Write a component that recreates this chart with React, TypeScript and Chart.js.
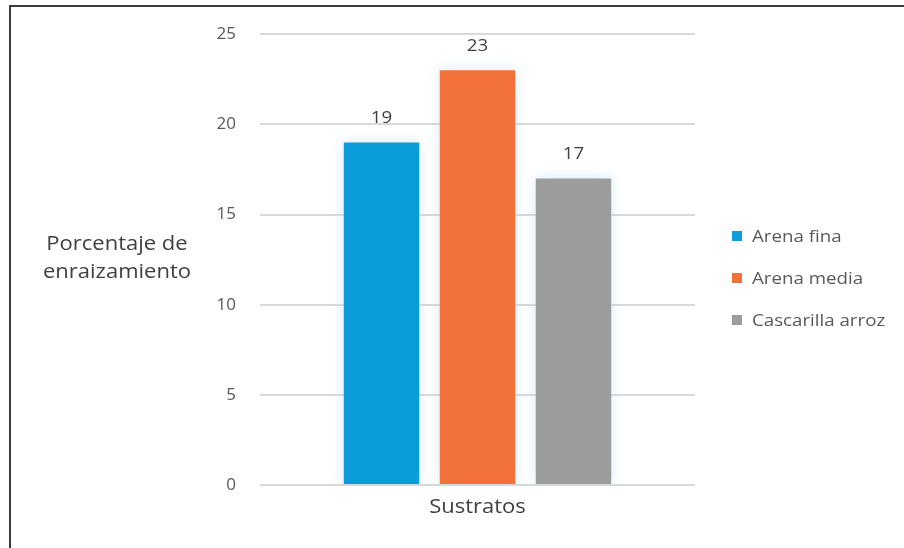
import React, { useEffect, useRef } from 'react';
import { Chart, registerables } from 'chart.js';

Chart.register(...registerables);

// Chart data
const categories = ['Sustratos'];
const seriesNames = ['Arena fina', 'Arena media', 'Cascarilla arroz'];
const seriesValues = [19, 23, 17];
const seriesColors = ['#0A9DDA', '#F2713B', '#9B9D9D'];
const yTitleLines = ['Porcentaje de', 'enraizamiento'];
const yMin = 0;
const yMax = 25;
const yStep = 5;

const FONT = '"Open Sans", "Noto Sans", sans-serif';
const STRETCH = 1.1;
const W = 904;
const H = 548;

function drawText(
  ctx: CanvasRenderingContext2D,
  text: string,
  x: number,
  y: number,
  size: number,
  color: string,
  align: CanvasTextAlign = 'center'
) {
  ctx.save();
  ctx.font = `${size}px ${FONT}`;
  ctx.fillStyle = color;
  ctx.textBaseline = 'alphabetic';
  ctx.textAlign = align;
  ctx.translate(x, y);
  ctx.scale(STRETCH, 1);
  ctx.fillText(text, 0, 0);
  ctx.restore();
}

// soft halo around the bars
const glowPlugin = {
  id: 'barGlow',
  beforeDatasetDraw(chart: any) {
    const ctx = chart.ctx;
    ctx.save();
    ctx.shadowColor = 'rgba(175, 215, 235, 0.55)';
    ctx.shadowBlur = 12;
  },
  afterDatasetDraw(chart: any) {
    chart.ctx.restore();
  },
};

// value labels, category label, y title and legend
const annotatePlugin = {
  id: 'annotate',
  afterDraw(chart: any) {
    const ctx = chart.ctx as CanvasRenderingContext2D;

    chart.data.datasets.forEach((ds: any, i: number) => {
      const meta = chart.getDatasetMeta(i);
      meta.data.forEach((bar: any, j: number) => {
        drawText(ctx, String(ds.data[j]), bar.x, bar.y - 19, 17, '#404040');
      });
    });

    const xs = chart.scales.x;
    categories.forEach((c, i) => {
      drawText(ctx, c, xs.getPixelForTick(i), 513, 20, '#404040');
    });

    drawText(ctx, yTitleLines[0], 117, 250, 20, '#404040');
    drawText(ctx, yTitleLines[1], 117, 278, 20, '#404040');

    seriesNames.forEach((name, i) => {
      const cy = 236 + i * 42;
      ctx.save();
      ctx.fillStyle = seriesColors[i];
      ctx.fillRect(732, cy - 5, 10, 10);
      ctx.restore();
      drawText(ctx, name, 752, cy + 6, 17, '#595959', 'left');
    });
  },
};

export default function App() {
  const ref = useRef<HTMLCanvasElement | null>(null);

  useEffect(() => {
    if (!ref.current) return;
    const chart = new Chart(ref.current, {
      type: 'bar',
      data: {
        labels: categories,
        datasets: seriesNames.map((name, i) => ({
          label: name,
          data: [seriesValues[i]],
          backgroundColor: seriesColors[i],
          borderWidth: 0,
          barPercentage: 0.786,
          categoryPercentage: 0.662,
        })),
      },
      options: {
        responsive: false,
        animation: false,
        layout: { padding: { left: 0, right: 209, top: 33, bottom: 0 } },
        plugins: {
          legend: { display: false },
          tooltip: { enabled: false },
        },
        scales: {
          x: {
            grid: { display: false, drawTicks: false },
            border: { display: false },
            ticks: { display: false },
            afterFit: (s: any) => {
              s.height = 63;
            },
          },
          y: {
            min: yMin,
            max: yMax,
            ticks: {
              stepSize: yStep,
              padding: 24,
              color: '#595959',
              font: { family: FONT, size: 17 },
            },
            grid: { color: '#d9d9d9', lineWidth: 2, drawTicks: false },
            border: { display: false },
            afterFit: (s: any) => {
              s.width = 260;
            },
          },
        },
      } as any,
      plugins: [glowPlugin, annotatePlugin],
    });
    return () => chart.destroy();
  }, []);

  return (
    <div
      style={{
        position: 'fixed',
        left: 0,
        top: 0,
        width: W,
        height: H,
        overflow: 'hidden',
        background: '#fff',
      }}
    >
      <canvas
        ref={ref}
        width={W}
        height={H}
        style={{ position: 'absolute', left: 0, top: 0, width: W, height: H }}
      />
      <div
        style={{
          position: 'absolute',
          left: 9,
          top: 5,
          width: 1000,
          height: 1000,
          border: '2px solid #3a3a3a',
          pointerEvents: 'none',
        }}
      />
    </div>
  );
}
